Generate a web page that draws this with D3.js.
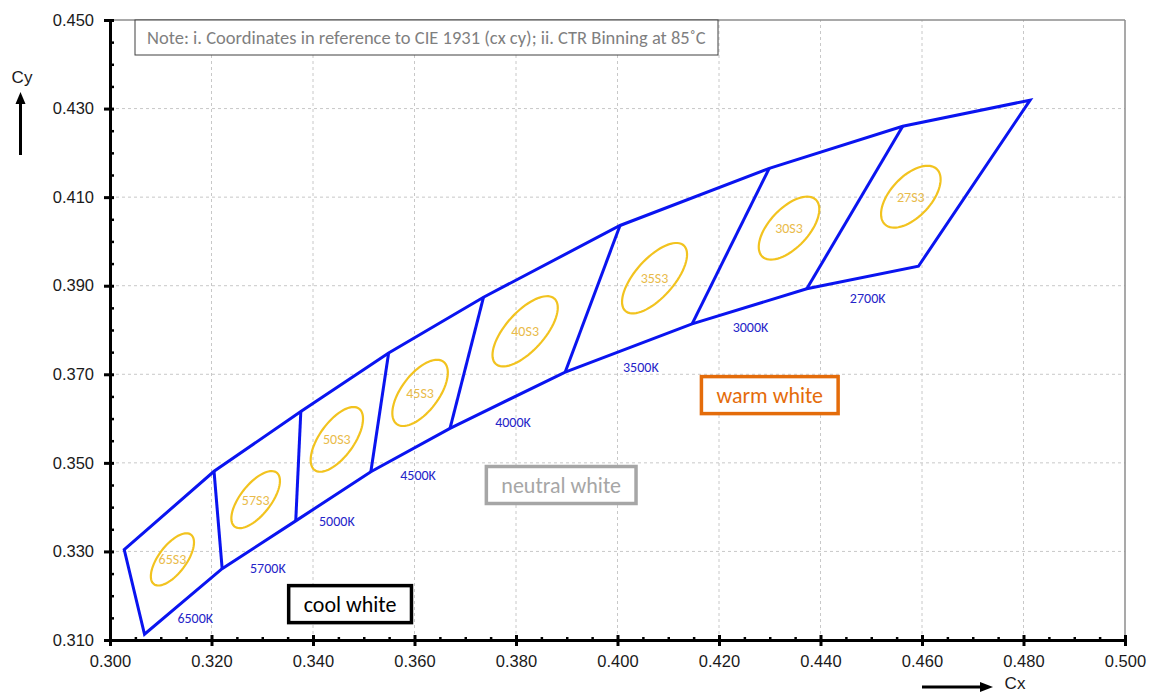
<!DOCTYPE html>
<html>
<head>
<meta charset="utf-8">
<script src="https://cdn.jsdelivr.net/npm/d3@7"></script>
<style>
  html, body { margin: 0; padding: 0; background: #fff; }
  svg { display: block; }
</style>
</head>
<body>
<svg id="chart" width="1151" height="693"></svg>
<script>
// ---------- DATA ----------
const xDomain = [0.300, 0.500];
const yDomain = [0.310, 0.450];
const xMajorTicks = [0.300, 0.320, 0.340, 0.360, 0.380, 0.400, 0.420, 0.440, 0.460, 0.480, 0.500];
const yMajorTicks = [0.310, 0.330, 0.350, 0.370, 0.390, 0.410, 0.430, 0.450];
const tickStep = 0.005;

// upper boundary of the ANSI quadrangles, 6500K -> 2700K
const upperCx = [0.3028, 0.3205, 0.3376, 0.3549, 0.3736, 0.4005, 0.4299, 0.4562, 0.4813];
const upperCy = [0.3304, 0.3481, 0.3616, 0.3748, 0.3874, 0.4036, 0.4165, 0.4260, 0.4319];
// lower boundary
const lowerCx = [0.3068, 0.3221, 0.3366, 0.3514, 0.3670, 0.3897, 0.4147, 0.4373, 0.4593];
const lowerCy = [0.3113, 0.3261, 0.3369, 0.3480, 0.3578, 0.3705, 0.3814, 0.3893, 0.3944];

// CCT labels and their positions
const cctLabels = ["6500K", "5700K", "5000K", "4500K", "4000K", "3500K", "3000K", "2700K"];
const cctLabelCx = [0.3168, 0.3311, 0.3447, 0.3607, 0.3794, 0.4046, 0.4262, 0.4493];
const cctLabelCy = [0.3150, 0.3262, 0.3368, 0.3472, 0.3592, 0.3716, 0.3806, 0.3873];

// 3-step MacAdam ellipses
const binNames = ["65S3", "57S3", "50S3", "45S3", "40S3", "35S3", "30S3", "27S3"];
const ellCx = [0.3123, 0.3287, 0.3447, 0.3611, 0.3818, 0.4073, 0.4338, 0.4578];
const ellCy = [0.3282, 0.3417, 0.3553, 0.3658, 0.3797, 0.3917, 0.4030, 0.4101];
const ellA  = [0.00669, 0.00738, 0.00822, 0.00843, 0.00939, 0.00939, 0.00834, 0.00810];
const ellB  = [0.00285, 0.00315, 0.00354, 0.00384, 0.00402, 0.00402, 0.00408, 0.00420];
const ellTheta = [58.57, 57.28, 59.62, 58.75, 53.72, 54.00, 53.22, 53.70];

// category boxes
const zoneNames = ["cool white", "neutral white", "warm white"];
const zoneCx = [0.3473, 0.3889, 0.4300];
const zoneCy = [0.3181, 0.3450, 0.3653];
const zoneColors = ["#000000", "#a6a6a6", "#e46c0a"];

const noteText = "Note: i. Coordinates in reference to CIE 1931 (cx cy); ii. CTR Binning at 85\u02DAC";

// ---------- LAYOUT ----------
const svg = d3.select("#chart");
const m = { left: 110, right: 1125, top: 20, bottom: 640 };
const x = d3.scaleLinear().domain(xDomain).range([m.left, m.right]);
const y = d3.scaleLinear().domain(yDomain).range([m.bottom, m.top]);
const calibri = "Carlito, Calibri, Lato, 'Open Sans', sans-serif";
const arial = "'Liberation Sans', Arial, Helvetica, sans-serif";

// minor tick values
const xMinor = d3.range(Math.round((xDomain[1] - xDomain[0]) / tickStep) + 1)
  .map(i => xDomain[0] + i * tickStep).filter(v => !xMajorTicks.some(t => Math.abs(t - v) < 1e-9));
const yMinor = d3.range(Math.round((yDomain[1] - yDomain[0]) / tickStep) + 1)
  .map(i => yDomain[0] + i * tickStep).filter(v => !yMajorTicks.some(t => Math.abs(t - v) < 1e-9));

// gridlines
const grid = svg.append("g");
grid.selectAll("line.vx").data(xMajorTicks.slice(1, -1)).join("line")
  .attr("x1", d => x(d)).attr("x2", d => x(d)).attr("y1", y(yDomain[0])).attr("y2", y(yDomain[1]))
  .attr("stroke", "#c8c8c8").attr("stroke-width", 1).attr("stroke-dasharray", "3,3");
grid.selectAll("line.hy").data(yMajorTicks.slice(1, -1)).join("line")
  .attr("x1", x(xDomain[0])).attr("x2", x(xDomain[1])).attr("y1", d => y(d)).attr("y2", d => y(d))
  .attr("stroke", "#c8c8c8").attr("stroke-width", 1).attr("stroke-dasharray", "3,3");

// top/right frame
svg.append("line").attr("x1", x(xDomain[0])).attr("x2", x(xDomain[1]))
  .attr("y1", y(yDomain[1])).attr("y2", y(yDomain[1])).attr("stroke", "#8c8c8c").attr("stroke-width", 1.5);
svg.append("line").attr("x1", x(xDomain[1])).attr("x2", x(xDomain[1]))
  .attr("y1", y(yDomain[0])).attr("y2", y(yDomain[1])).attr("stroke", "#8c8c8c").attr("stroke-width", 1.5);

// ellipses
const ellipseData = binNames.map((n, i) => ({ n, cx: ellCx[i], cy: ellCy[i], a: ellA[i], b: ellB[i], t: ellTheta[i] }));
const ellLine = d3.line().x(p => x(p[0])).y(p => y(p[1])).curve(d3.curveLinearClosed);
function ellipsePts(e) {
  const th = e.t * Math.PI / 180;
  return d3.range(0, 72).map(k => {
    const s = k / 72 * 2 * Math.PI;
    return [e.cx + e.a * Math.cos(th) * Math.cos(s) - e.b * Math.sin(th) * Math.sin(s),
            e.cy + e.a * Math.sin(th) * Math.cos(s) + e.b * Math.cos(th) * Math.sin(s)];
  });
}
svg.append("g").selectAll("path").data(ellipseData).join("path")
  .attr("d", e => ellLine(ellipsePts(e)))
  .attr("fill", "none").attr("stroke", "#f2c31f").attr("stroke-width", 2.2);
svg.append("g").selectAll("text").data(ellipseData).join("text")
  .attr("x", e => x(e.cx)).attr("y", e => y(e.cy)).attr("dy", "0.36em")
  .attr("text-anchor", "middle").attr("font-family", calibri).attr("font-size", 14)
  .attr("fill", "#e9bb4a").text(e => e.n);

// quadrangles
const upperPts = upperCx.map((v, i) => [v, upperCy[i]]);
const lowerPts = lowerCx.map((v, i) => [v, lowerCy[i]]);
const outline = upperPts.concat(lowerPts.slice().reverse());
const pathLine = d3.line().x(p => x(p[0])).y(p => y(p[1]));
svg.append("path").attr("d", pathLine(outline) + "Z")
  .attr("fill", "none").attr("stroke", "#0a14f0").attr("stroke-width", 3).attr("stroke-linejoin", "miter");
svg.append("g").selectAll("line").data(d3.range(1, upperPts.length - 1)).join("line")
  .attr("x1", i => x(upperPts[i][0])).attr("y1", i => y(upperPts[i][1]))
  .attr("x2", i => x(lowerPts[i][0])).attr("y2", i => y(lowerPts[i][1]))
  .attr("stroke", "#0a14f0").attr("stroke-width", 3);

// CCT labels
svg.append("g").selectAll("text").data(cctLabels).join("text")
  .attr("x", (d, i) => x(cctLabelCx[i])).attr("y", (d, i) => y(cctLabelCy[i])).attr("dy", "0.36em")
  .attr("text-anchor", "middle").attr("font-family", calibri).attr("font-size", 14)
  .attr("font-weight", 500).attr("fill", "#2424c8").text(d => d);

// zone boxes
const zones = svg.append("g");
zoneNames.forEach((name, i) => {
  const g = zones.append("g");
  const t = g.append("text").attr("x", x(zoneCx[i])).attr("y", y(zoneCy[i])).attr("dy", "0.35em")
    .attr("text-anchor", "middle").attr("font-family", calibri).attr("font-size", 22)
    .attr("fill", zoneColors[i]).text(name);
  const bb = t.node().getBBox();
  g.insert("rect", "text").attr("x", bb.x - 15).attr("y", y(zoneCy[i]) - 18.5)
    .attr("width", bb.width + 30).attr("height", 37)
    .attr("fill", "#fff").attr("stroke", zoneColors[i]).attr("stroke-width", 3.5);
});

// note box
const note = svg.append("g");
note.append("rect").attr("x", 135).attr("y", y(yDomain[1])).attr("width", 583).attr("height", 35)
  .attr("fill", "#fff").attr("stroke", "#404040").attr("stroke-width", 1);
note.append("text").attr("x", 147).attr("y", y(yDomain[1]) + 18).attr("dy", "0.35em")
  .attr("font-family", calibri).attr("font-size", 18.5).attr("fill", "#7f7f7f").text(noteText);

// axes
const fmt = d3.format(".3f");
const xAxis = svg.append("g").attr("transform", `translate(0,${m.bottom})`)
  .call(d3.axisBottom(x).tickValues(xMajorTicks).tickFormat(fmt).tickSize(6).tickSizeOuter(0));
xAxis.select(".domain").attr("stroke", "#000").attr("stroke-width", 3);
xAxis.selectAll(".tick line").attr("y1", -5).attr("y2", 6).attr("stroke-width", 3);
xAxis.selectAll(".tick text").attr("font-family", arial).attr("font-size", 16.5).attr("fill", "#1a1a1a").attr("y", 15);
const xMinorAxis = svg.append("g").attr("transform", `translate(0,${m.bottom})`)
  .call(d3.axisBottom(x).tickValues(xMinor).tickFormat("").tickSize(3).tickSizeOuter(0));
xMinorAxis.select(".domain").remove();
xMinorAxis.selectAll(".tick line").attr("y1", -3).attr("y2", 2).attr("stroke-width", 2.5);

const yAxis = svg.append("g").attr("transform", `translate(${m.left},0)`)
  .call(d3.axisLeft(y).tickValues(yMajorTicks).tickFormat(fmt).tickSize(6).tickSizeOuter(0));
yAxis.select(".domain").attr("stroke", "#000").attr("stroke-width", 3);
yAxis.selectAll(".tick line").attr("x1", -6).attr("x2", 4).attr("stroke-width", 3);
yAxis.selectAll(".tick text").attr("font-family", arial).attr("font-size", 16.5).attr("fill", "#1a1a1a").attr("x", -16);
const yMinorAxis = svg.append("g").attr("transform", `translate(${m.left},0)`)
  .call(d3.axisLeft(y).tickValues(yMinor).tickFormat("").tickSize(3).tickSizeOuter(0));
yMinorAxis.select(".domain").remove();
yMinorAxis.selectAll(".tick line").attr("x1", -1).attr("x2", 4).attr("stroke-width", 2.5);

// axis titles with arrows
svg.append("text").attr("x", 22).attr("y", 77).attr("dy", "0.35em").attr("text-anchor", "middle")
  .attr("font-family", arial).attr("font-size", 17).attr("fill", "#1a1a1a").text("Cy");
svg.append("line").attr("x1", 20.5).attr("x2", 20.5).attr("y1", 155).attr("y2", 102)
  .attr("stroke", "#000").attr("stroke-width", 3);
svg.append("path").attr("d", "M20.5,92 L15.5,104 L25.5,104 Z").attr("fill", "#000");

svg.append("text").attr("x", 1015).attr("y", 683).attr("dy", "0.35em").attr("text-anchor", "middle")
  .attr("font-family", arial).attr("font-size", 17).attr("fill", "#1a1a1a").text("Cx");
svg.append("line").attr("x1", 922).attr("x2", 982).attr("y1", 687).attr("y2", 687)
  .attr("stroke", "#000").attr("stroke-width", 3);
svg.append("path").attr("d", "M993,687 L980,682 L980,692 Z").attr("fill", "#000");
</script>
</body>
</html>
